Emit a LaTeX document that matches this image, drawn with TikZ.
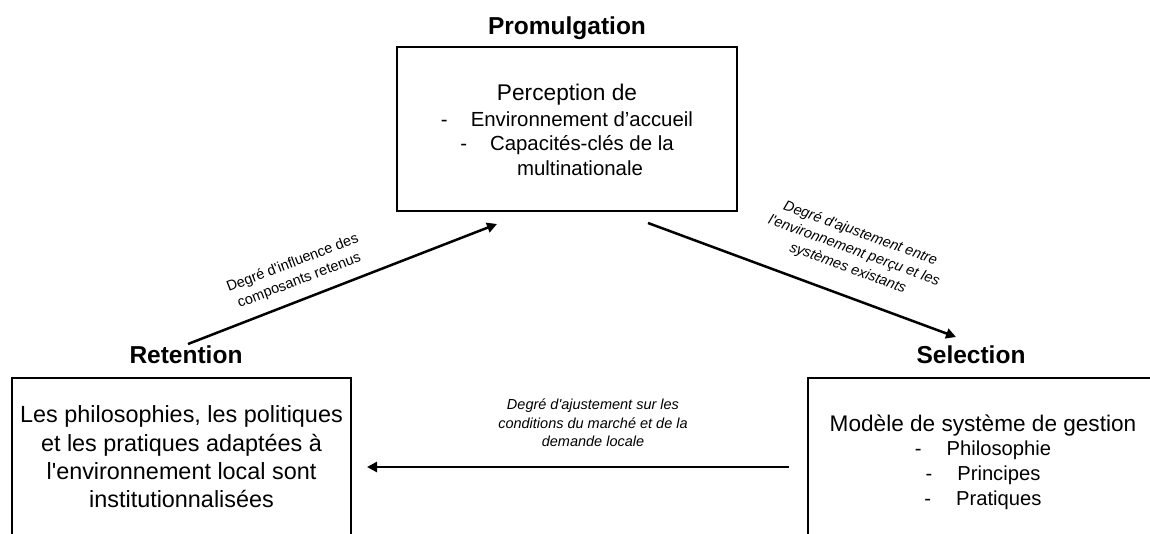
\documentclass[tikz,border=0pt]{standalone}
\usepackage{fontspec}
\setmainfont{Liberation Sans}[Ligatures=TeXOff]
\usetikzlibrary{arrows.meta}
\tikzset{
  box/.style={draw=black, line width=2.8pt, inner sep=0pt},
  boxtxt/.style={align=center, inner sep=0pt},
  title/.style={font=\fontsize{24.5}{29}\selectfont\bfseries, anchor=base, inner sep=0pt},
  conn/.style={line width=2.5pt, -{Triangle[length=10pt,width=10pt]}},
  lbl/.style={font=\fontsize{14.5}{18.5}\selectfont, align=center, inner sep=0pt},
  ilbl/.style={lbl, font=\fontsize{14.5}{18.5}\selectfont\itshape}
}
\begin{document}
\begin{tikzpicture}[x=1pt,y=-1pt]
  \useasboundingbox (0,0) rectangle (1150,534);
  \fill[white] (0,0) rectangle (1150,534);
  \clip (0,0) rectangle (1150,534);

  % titles
  \node[title] (promTitle) at (567,35) {Promulgation};
  \node[title] (retTitle) at (186,363) {Retention};
  \node[title] (selTitle) at (971,363) {Selection};

  % boxes
  \node[box, minimum width=340pt, minimum height=164pt] (promBox) at (567,129) {};
  \node[box, minimum width=339pt, minimum height=158pt] (retBox) at (181.5,457) {};
  \node[box, minimum width=350pt, minimum height=158pt] (selBox) at (983,457) {};

  % box texts
  \node[boxtxt, font=\fontsize{20.4}{24.5}\selectfont] (promTxt) at (567,130)
    {{\fontsize{22.7}{26}\selectfont Perception de}\\[1pt]
     -\hspace{23pt}Environnement d’accueil\\
     -\hspace{23pt}Capacités-clés de la\\
     \hspace*{26pt}multinationale};
  \node[boxtxt, font=\fontsize{23.4}{28.3}\selectfont] (retTxt) at (181.5,457)
    {Les philosophies, les politiques\\
     et les pratiques adaptées à\\
     l'environnement local sont\\
     institutionnalisées};
  \node[boxtxt, font=\fontsize{20.2}{24.7}\selectfont] (selTxt) at (983,462)
    {{\fontsize{22.6}{25}\selectfont Modèle de système de gestion}\\
     -\hspace{25pt}Philosophie\\
     -\hspace{25pt}Principes\\
     -\hspace{25pt}Pratiques};

  % connector end points
  \coordinate (aL1) at (188,344);
  \coordinate (aL2) at (497,224);
  \coordinate (aR1) at (648,223);
  \coordinate (aR2) at (956,337);
  \coordinate (aB1) at (789,467);
  \coordinate (aB2) at (367,467);

  \draw[conn] (aL1) -- (aL2);
  \draw[conn] (aR1) -- (aR2);
  \draw[conn] (aB1) -- (aB2);

  % labels
  \node[lbl, rotate=21] (lblL) at (296,272)
    {Degré d'influence des\\composants retenus};
  \node[ilbl, rotate=-20] (lblR) at (854,251)
    {Degré d'ajustement entre\\l'environnement perçu et les\\systèmes existants};
  \node[ilbl] (lblB) at (593,423)
    {Degré d'ajustement sur les\\conditions du marché et de la\\demande locale};
\end{tikzpicture}
\end{document}
